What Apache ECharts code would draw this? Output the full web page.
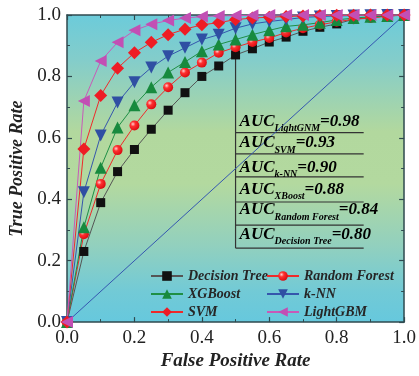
<!DOCTYPE html>
<html><head><meta charset="utf-8">
<script src="https://cdn.jsdelivr.net/npm/echarts@6/dist/echarts.min.js"></script>
<style>html,body{margin:0;padding:0;background:#fff}#c{width:419px;height:376px}</style>
</head><body><div id="c"></div>
<script>
// ---- data ----
const fpr = [0,0.05,0.10,0.15,0.20,0.25,0.30,0.35,0.40,0.45,0.50,0.55,0.60,0.65,0.70,0.75,0.80,0.85,0.90,0.95,1.00];
const decisionTree = [0,0.23,0.389,0.49,0.562,0.628,0.69,0.747,0.800,0.834,0.870,0.890,0.912,0.928,0.947,0.960,0.971,0.986,0.992,0.997,1.0];
const randomForest = [0,0.286,0.45,0.56,0.64,0.709,0.765,0.813,0.845,0.877,0.895,0.912,0.925,0.943,0.957,0.968,0.978,0.986,0.990,0.996,1.0];
const xgboost = [0,0.309,0.503,0.634,0.706,0.765,0.813,0.847,0.882,0.904,0.920,0.936,0.950,0.963,0.968,0.975,0.984,0.990,0.994,0.997,1.0];
const knn = [0,0.423,0.608,0.715,0.781,0.829,0.866,0.893,0.920,0.936,0.957,0.971,0.979,0.985,0.992,0.995,0.997,0.998,0.999,1.0,1.0];
const svm = [0,0.564,0.738,0.827,0.877,0.911,0.936,0.954,0.968,0.975,0.985,0.990,0.993,0.995,0.997,0.998,0.999,0.999,1.0,1.0,1.0];
const lightgbm = [0,0.72,0.85,0.911,0.95,0.97,0.982,0.99,0.995,0.997,0.998,0.999,1.0,1.0,1.0,1.0,1.0,1.0,1.0,1.0,1.0];
const diagonal = [[0,0],[1,1]];
const aucNames = ['LightGNM','SVM','k-NN','XBoost','Random Forest','Decision Tree'];
const aucValues = ['0.98','0.93','0.90','0.88','0.84','0.80'];
const axisMin = 0, axisMax = 1, axisInterval = 0.2;

// ---- styling ----
const serif = 'Liberation Serif';
const frame = '#2f4a4f';
const toPts = arr => fpr.map((x, i) => [x, arr[i]]);

const chart = echarts.init(document.getElementById('c'));

function mkSeries(name, arr, color, lineColor, symbol, size, rotate, fill) {
  return {
    name, type: 'line', data: toPts(arr), symbol, symbolSize: size, symbolRotate: rotate || 0,
    showAllSymbol: true, z: 3,
    lineStyle: { color: lineColor, width: 1 },
    itemStyle: { color: fill || color, borderWidth: 0 }
  };
}

const rfFill = new echarts.graphic.RadialGradient(0.35, 0.35, 0.7, [
  { offset: 0, color: '#ffd0d0' }, { offset: 0.35, color: '#ff3030' }, { offset: 1, color: '#d80a10' }]);

const xAxisBase = {
  type: 'value', min: axisMin, max: axisMax, interval: axisInterval,
  axisLine: { show: true, onZero: false, lineStyle: { color: frame, width: 1.5 } },
  axisTick: { show: true, inside: true, length: 5, lineStyle: { color: frame, width: 1.2 } },
  minorTick: { show: true, splitNumber: 2, length: 3, lineStyle: { color: frame, width: 1 } },
  splitLine: { show: false },
};

const gradientBg = new echarts.graphic.LinearGradient(0, 0, 0, 1, [
  { offset: 0, color: '#6ccbda' },
  { offset: 0.15, color: '#84cdca' },
  { offset: 0.38, color: '#b2d89e' },
  { offset: 0.55, color: '#b3d99f' },
  { offset: 0.75, color: '#92d0be' },
  { offset: 0.9, color: '#72cad6' },
  { offset: 1, color: '#66c8dd' }
]);

const legendText = { fontFamily: serif, fontWeight: 'bold', fontStyle: 'italic', fontSize: 14, color: '#262626' };

chart.setOption({
  animation: false,
  grid: { left: 67, right: 12, top: 15, bottom: 49, show: true, borderWidth: 0, backgroundColor: gradientBg },
  xAxis: [
    Object.assign({}, xAxisBase, {
      position: 'bottom',
      axisLabel: { fontFamily: serif, fontSize: 19, color: '#222', margin: 6, formatter: v => v.toFixed(1) },
      name: 'False Positive Rate', nameLocation: 'middle', nameGap: 24,
      nameTextStyle: { fontFamily: serif, fontWeight: 'bold', fontStyle: 'italic', fontSize: 19, color: '#222' }
    }),
    Object.assign({}, xAxisBase, { position: 'top', axisLabel: { show: false } })
  ],
  yAxis: [
    Object.assign({}, xAxisBase, {
      position: 'left',
      axisLabel: { fontFamily: serif, fontSize: 19, color: '#222', margin: 6, formatter: v => v.toFixed(1) },
      name: 'True Positive Rate', nameLocation: 'middle', nameGap: 39,
      nameTextStyle: { fontFamily: serif, fontWeight: 'bold', fontStyle: 'italic', fontSize: 18, color: '#222' }
    }),
    Object.assign({}, xAxisBase, { position: 'right', axisLabel: { show: false } })
  ],
  legend: [
    { data: ['Decision Tree', 'XGBoost', 'SVM'], orient: 'vertical', left: 150, top: 269,
      itemWidth: 32, itemHeight: 12, itemGap: 4, textStyle: legendText, padding: 0 },
    { data: ['Random Forest', 'k-NN', 'LightGBM'], orient: 'vertical', left: 266, top: 269,
      itemWidth: 32, itemHeight: 12, itemGap: 4, textStyle: legendText, padding: 0 }
  ],
  series: [
    { name: 'diag', type: 'line', data: diagonal, symbol: 'none', z: 2,
      lineStyle: { color: '#3557b0', width: 1 } },
    mkSeries('Decision Tree', decisionTree, '#111', '#555', 'rect', 9, 0),
    mkSeries('Random Forest', randomForest, '#e8141c', '#ee2a2a', 'circle', 10, 0, rfFill),
    mkSeries('XGBoost', xgboost, '#178a3e', '#1f8f45', 'triangle', 12, 0),
    mkSeries('k-NN', knn, '#2f4fa3', '#3556ac', 'triangle', 12, 180),
    mkSeries('SVM', svm, '#ee1c24', '#ee2a2a', 'diamond', 13, 0),
    mkSeries('LightGBM', lightgbm, '#c24fb4', '#c85ab8', 'triangle', 12, 90)
  ]
});

// ---- AUC annotation box ----
const boxLeft = 0.5, boxRight = 0.88;
const lineYs = [0.617, 0.548, 0.473, 0.391, 0.316, 0.241];
const textYs = [0.653, 0.583, 0.503, 0.432, 0.365, 0.285];
const P = (x, y) => chart.convertToPixel({ xAxisIndex: 0, yAxisIndex: 0 }, [x, y]);
const elements = [];
const vTop = P(boxLeft, 1), vBot = P(boxLeft, lineYs[lineYs.length - 1]);
elements.push({ type: 'line', shape: { x1: vTop[0], y1: vTop[1], x2: vBot[0], y2: vBot[1] },
  style: { stroke: '#333', lineWidth: 1.2 }, z: 1 });
lineYs.forEach(y => {
  const a = P(boxLeft, y), b = P(boxRight, y);
  elements.push({ type: 'line', shape: { x1: a[0], y1: a[1], x2: b[0], y2: b[1] },
    style: { stroke: '#333', lineWidth: 1.2 }, z: 1 });
});
aucNames.forEach((n, i) => {
  const p = P(boxLeft + 0.012, textYs[i]);
  elements.push({ type: 'text', x: p[0], y: p[1], z: 5,
    style: {
      text: '{m|AUC}{s|' + n + '}{m|=' + aucValues[i] + '}',
      verticalAlign: 'middle', align: 'left',
      rich: {
        m: { fontFamily: serif, fontWeight: 'bold', fontStyle: 'italic', fontSize: 17, color: '#333', lineHeight: 24 },
        s: { fontFamily: serif, fontWeight: 'bold', fontStyle: 'italic', fontSize: 10, color: '#333', verticalAlign: 'bottom', lineHeight: 12 }
      }
    } });
});
chart.setOption({ graphic: elements });
</script>
</body></html>
